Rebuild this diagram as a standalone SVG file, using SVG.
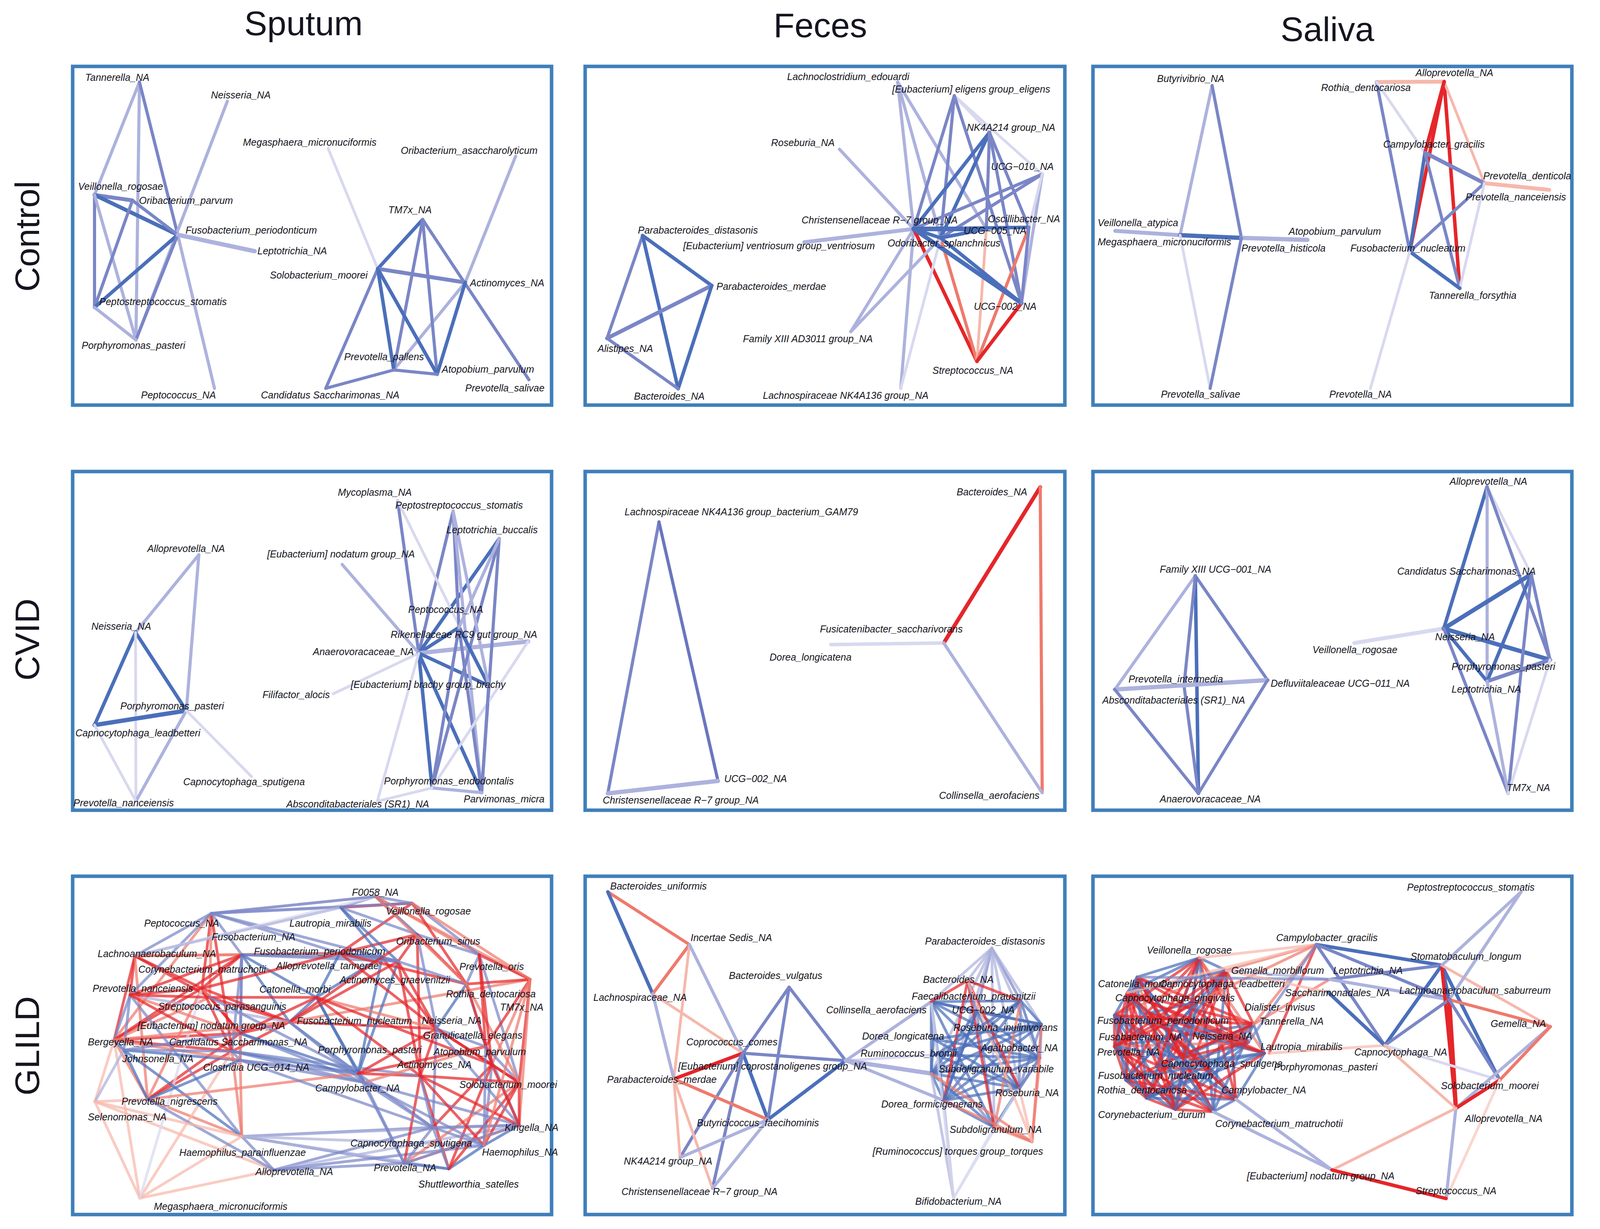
<svg xmlns="http://www.w3.org/2000/svg" width="4350" height="3146" viewBox="0 0 4350 3146">
<defs>
<linearGradient id="rbar" x1="0" y1="0" x2="0" y2="1">
<stop offset="0" stop-color="#3c6fb9"/><stop offset="0.25" stop-color="#7d6cb2"/><stop offset="0.5" stop-color="#b0669c"/><stop offset="0.75" stop-color="#d8535f"/><stop offset="1" stop-color="#e81b22"/>
</linearGradient>
</defs>
<style>
text{font-family:"Liberation Sans",Arial,sans-serif;fill:#151520}
.lb{font-size:25px;font-style:italic}
.title{font-size:88px}
.panel{fill:none;stroke:#3f7fba;stroke-width:9}
line{stroke-linecap:round}
.b1{stroke:#4b6fba;stroke-width:9}
.b2{stroke:#7a86c6;stroke-width:8}
.b3{stroke:#adb2dd;stroke-width:8}
.b4{stroke:#d8d9ef;stroke-width:7}
.r1{stroke:#e5262a;stroke-width:9}
.r2{stroke:#ee7a6d;stroke-width:8}
.r3{stroke:#f6b8ac;stroke-width:7}
.g line{stroke-width:7;stroke-opacity:0.72}
.tick{stroke:#000;stroke-width:9}
</style>
<rect width="4350" height="3146" fill="#fff"/>

<g id="titles">
<text class="title" x="777" y="90" text-anchor="middle">Sputum</text>
<text class="title" x="2100" y="95" text-anchor="middle">Feces</text>
<text class="title" x="3398" y="105" text-anchor="middle">Saliva</text>
<text class="title" transform="translate(100,605) rotate(-90)" text-anchor="middle">Control</text>
<text class="title" transform="translate(100,1637) rotate(-90)" text-anchor="middle">CVID</text>
<text class="title" transform="translate(100,2677) rotate(-90)" text-anchor="middle">GLILD</text>
</g>

<g id="panels">
<rect class="panel" x="186" y="170" width="1226" height="867"/>
<rect class="panel" x="1498" y="170" width="1228" height="867"/>
<rect class="panel" x="2798" y="170" width="1226" height="867"/>
<rect class="panel" x="186" y="1207" width="1226" height="867"/>
<rect class="panel" x="1498" y="1207" width="1228" height="867"/>
<rect class="panel" x="2798" y="1207" width="1226" height="867"/>
<rect class="panel" x="186" y="2243" width="1226" height="866"/>
<rect class="panel" x="1498" y="2243" width="1228" height="866"/>
<rect class="panel" x="2798" y="2243" width="1226" height="866"/>
</g>

<g id="connectors">
<!-- P1 sputum control -->
<line class="b3" x1="357" y1="210" x2="242" y2="499"/>
<line class="b3" x1="357" y1="210" x2="348" y2="870"/>
<line class="b2" x1="357" y1="210" x2="455" y2="601"/>
<line class="b3" x1="455" y1="601" x2="549" y2="994"/>
<line class="b3" x1="582" y1="259" x2="348" y2="870"/>
<line class="b2" x1="242" y1="499" x2="339" y2="513" style="stroke-width:10"/>
<line class="b1" x1="242" y1="499" x2="455" y2="601" style="stroke-width:10"/>
<line class="b2" x1="339" y1="513" x2="455" y2="601"/>
<line class="b2" x1="242" y1="499" x2="242" y2="787"/>
<line class="b3" x1="242" y1="499" x2="348" y2="870"/>
<line class="b2" x1="339" y1="513" x2="242" y2="787"/>
<line class="b1" x1="455" y1="601" x2="242" y2="787"/>
<line class="b2" x1="455" y1="601" x2="348" y2="870"/>
<line class="b3" x1="455" y1="601" x2="652" y2="643" style="stroke-width:11"/>
<line class="b3" x1="242" y1="787" x2="348" y2="870"/>
<line class="b4" x1="840" y1="380" x2="967" y2="688"/>
<line class="b3" x1="1320" y1="400" x2="1191" y2="723"/>
<line class="b3" x1="1191" y1="723" x2="1008" y2="947"/>
<line class="b1" x1="1082" y1="562" x2="967" y2="688"/>
<line class="b2" x1="1082" y1="562" x2="1008" y2="947"/>
<line class="b2" x1="1082" y1="562" x2="1119" y2="958"/>
<line class="b2" x1="1082" y1="562" x2="1354" y2="972"/>
<line class="b2" x1="967" y1="688" x2="1191" y2="723" style="stroke-width:10"/>
<line class="b2" x1="967" y1="688" x2="834" y2="994"/>
<line class="b1" x1="967" y1="688" x2="1008" y2="947"/>
<line class="b1" x1="967" y1="688" x2="1119" y2="958"/>
<line class="b1" x1="1191" y1="723" x2="1119" y2="958"/>
<line class="b2" x1="1008" y1="947" x2="834" y2="994"/>
<line class="b2" x1="1008" y1="947" x2="1119" y2="958"/>

<!-- P2 feces control -->
<line class="b1" x1="1645" y1="603" x2="1822" y2="731"/>
<line class="b2" x1="1645" y1="603" x2="1554" y2="866"/>
<line class="b1" x1="1645" y1="603" x2="1736" y2="995"/>
<line class="b2" x1="1822" y1="731" x2="1554" y2="866" style="stroke-width:10"/>
<line class="b1" x1="1822" y1="731" x2="1736" y2="995"/>
<line class="b2" x1="1554" y1="866" x2="1736" y2="995"/>
<line class="b3" x1="2149" y1="382" x2="2339" y2="586"/>
<line class="b3" x1="2298" y1="210" x2="2408" y2="609"/>
<line class="b3" x1="2298" y1="210" x2="2525" y2="586"/>
<line class="b3" x1="2298" y1="210" x2="2339" y2="586"/>
<line class="b4" x1="2443" y1="245" x2="2533" y2="339"/>
<line class="b4" x1="2443" y1="245" x2="2668" y2="446"/>
<line class="b2" x1="2443" y1="245" x2="2339" y2="586"/>
<line class="b2" x1="2443" y1="245" x2="2408" y2="609"/>
<line class="b2" x1="2443" y1="245" x2="2615" y2="776"/>
<line class="b1" x1="2533" y1="339" x2="2339" y2="586"/>
<line class="b1" x1="2533" y1="339" x2="2408" y2="609"/>
<line class="b2" x1="2533" y1="339" x2="2525" y2="586"/>
<line class="b2" x1="2533" y1="339" x2="2615" y2="776"/>
<line class="b2" x1="2533" y1="339" x2="2634" y2="582"/>
<line class="b2" x1="2668" y1="446" x2="2339" y2="586"/>
<line class="b2" x1="2668" y1="446" x2="2408" y2="609"/>
<line class="b3" x1="2668" y1="446" x2="2615" y2="776"/>
<line class="b4" x1="2668" y1="446" x2="2634" y2="582"/>
<line class="b3" x1="2339" y1="586" x2="2059" y2="620" style="stroke-width:10"/>
<line class="b3" x1="2339" y1="586" x2="2178" y2="849"/>
<line class="b3" x1="2339" y1="586" x2="2306" y2="994"/>
<line class="r1" x1="2339" y1="586" x2="2501" y2="925"/>
<line class="r2" x1="2408" y1="609" x2="2501" y2="925"/>
<line class="r3" x1="2525" y1="586" x2="2501" y2="925"/>
<line class="r2" x1="2634" y1="582" x2="2501" y2="925"/>
<line class="r1" x1="2615" y1="776" x2="2501" y2="925"/>
<line class="b3" x1="2408" y1="609" x2="2178" y2="849"/>
<line class="b4" x1="2408" y1="609" x2="2306" y2="994"/>
<line class="b1" x1="2339" y1="586" x2="2525" y2="586" style="stroke-width:12"/>
<line class="b1" x1="2339" y1="586" x2="2634" y2="582"/>
<line class="b1" x1="2339" y1="586" x2="2408" y2="609"/>
<line class="b1" x1="2339" y1="586" x2="2615" y2="776" style="stroke-width:11"/>
<line class="b1" x1="2408" y1="609" x2="2525" y2="586"/>
<line class="b1" x1="2408" y1="609" x2="2615" y2="776"/>
<line class="b2" x1="2634" y1="582" x2="2615" y2="776"/>

<!-- P3 saliva control -->
<line class="b3" x1="3103" y1="219" x2="3021" y2="602"/>
<line class="b2" x1="3103" y1="219" x2="3178" y2="609"/>
<line class="b3" x1="2855" y1="591" x2="3021" y2="602" style="stroke-width:10"/>
<line class="b1" x1="3021" y1="602" x2="3178" y2="609" style="stroke-width:11"/>
<line class="b3" x1="3178" y1="609" x2="3347" y2="614" style="stroke-width:11"/>
<line class="b4" x1="3021" y1="602" x2="3098" y2="994"/>
<line class="b2" x1="3178" y1="609" x2="3098" y2="994"/>
<line class="r3" x1="3524" y1="210" x2="3697" y2="209" style="stroke-width:10"/>
<line class="b2" x1="3524" y1="210" x2="3609" y2="644"/>
<line class="b4" x1="3524" y1="210" x2="3648" y2="391"/>
<line class="r1" x1="3697" y1="209" x2="3609" y2="644"/>
<line class="r1" x1="3697" y1="209" x2="3737" y2="738"/>
<line class="r3" x1="3697" y1="209" x2="3800" y2="469"/>
<line class="r1" x1="3697" y1="209" x2="3648" y2="391"/>
<line class="b1" x1="3648" y1="391" x2="3609" y2="644"/>
<line class="b2" x1="3648" y1="391" x2="3800" y2="469" style="stroke-width:10"/>
<line class="b2" x1="3648" y1="391" x2="3737" y2="738"/>
<line class="r3" x1="3800" y1="469" x2="3966" y2="486" style="stroke-width:10"/>
<line class="b2" x1="3800" y1="469" x2="3609" y2="644"/>
<line class="b4" x1="3800" y1="469" x2="3737" y2="738"/>
<line class="b1" x1="3609" y1="644" x2="3737" y2="738"/>
<line class="b4" x1="3609" y1="644" x2="3508" y2="995"/>

<!-- P4 sputum CVID -->
<line class="b3" x1="509" y1="1420" x2="347" y2="1619"/>
<line class="b3" x1="509" y1="1420" x2="477" y2="1819"/>
<line class="b1" x1="347" y1="1619" x2="477" y2="1819"/>
<line class="b1" x1="347" y1="1619" x2="242" y2="1856"/>
<line class="b4" x1="347" y1="1619" x2="348" y2="2051"/>
<line class="b1" x1="477" y1="1819" x2="242" y2="1856" style="stroke-width:11"/>
<line class="b3" x1="477" y1="1819" x2="348" y2="2051"/>
<line class="b4" x1="477" y1="1819" x2="644" y2="1988"/>
<line class="b4" x1="242" y1="1856" x2="348" y2="2051"/>
<line class="b2" x1="1072" y1="1672" x2="1018" y2="1282"/>
<line class="b2" x1="1072" y1="1672" x2="1160" y2="1308"/>
<line class="b1" x1="1072" y1="1672" x2="1278" y2="1379"/>
<line class="b3" x1="1072" y1="1672" x2="876" y2="1445"/>
<line class="b1" x1="1072" y1="1672" x2="1175" y2="1606"/>
<line class="b3" x1="1072" y1="1672" x2="1352" y2="1642" style="stroke-width:11"/>
<line class="b1" x1="1072" y1="1672" x2="1251" y2="1755"/>
<line class="b4" x1="1072" y1="1672" x2="853" y2="1776"/>
<line class="b1" x1="1072" y1="1672" x2="1106" y2="2017"/>
<line class="b1" x1="1072" y1="1672" x2="1233" y2="2029"/>
<line class="b4" x1="1072" y1="1672" x2="966" y2="2051"/>
<line class="b4" x1="1018" y1="1282" x2="1251" y2="1755"/>
<line class="b2" x1="1160" y1="1308" x2="1175" y2="1606"/>
<line class="b3" x1="1160" y1="1308" x2="1233" y2="2029"/>
<line class="b2" x1="1278" y1="1379" x2="1233" y2="2029"/>
<line class="b2" x1="1278" y1="1379" x2="1106" y2="2017"/>
<line class="b1" x1="1175" y1="1606" x2="1251" y2="1755"/>
<line class="b2" x1="1175" y1="1606" x2="1233" y2="2029"/>
<line class="b2" x1="1175" y1="1606" x2="1106" y2="2017"/>
<line class="b4" x1="1352" y1="1642" x2="1106" y2="2017"/>
<line class="b2" x1="1251" y1="1755" x2="1233" y2="2029"/>
<line class="b3" x1="1106" y1="2017" x2="1233" y2="2029"/>
<line class="b4" x1="1106" y1="2017" x2="966" y2="2051"/>
<line class="b3" x1="1160" y1="1308" x2="1251" y2="1755"/>
<line class="b3" x1="1278" y1="1379" x2="1175" y2="1606"/>

<!-- P5 feces CVID -->
<line class="b2" x1="1687" y1="1336" x2="1556" y2="2031"/>
<line class="b2" x1="1687" y1="1336" x2="1838" y2="1999" style="stroke:#6a76bf"/>
<line class="b3" x1="1556" y1="2031" x2="1838" y2="1999" style="stroke-width:11"/>
<line class="r1" x1="2663" y1="1247" x2="2416" y2="1646" style="stroke-width:10"/>
<line class="r2" x1="2663" y1="1247" x2="2668" y2="2029"/>
<line class="b4" x1="2416" y1="1646" x2="2127" y2="1650" style="stroke-width:9"/>
<line class="b3" x1="2416" y1="1646" x2="2668" y2="2029"/>

<!-- P6 saliva CVID -->
<line class="b3" x1="3060" y1="1474" x2="2854" y2="1765"/>
<line class="b2" x1="3060" y1="1474" x2="3245" y2="1741"/>
<line class="b1" x1="3060" y1="1474" x2="3068" y2="2031"/>
<line class="b2" x1="3060" y1="1474" x2="3031" y2="1755"/>
<line class="b2" x1="3031" y1="1755" x2="3068" y2="2031"/>
<line class="b3" x1="2854" y1="1765" x2="3245" y2="1741" style="stroke-width:11"/>
<line class="b2" x1="2854" y1="1765" x2="3068" y2="2031"/>
<line class="b2" x1="3245" y1="1741" x2="3068" y2="2031"/>
<line class="b4" x1="3467" y1="1646" x2="3696" y2="1609" style="stroke-width:10"/>
<line class="b1" x1="3807" y1="1246" x2="3696" y2="1609"/>
<line class="b3" x1="3807" y1="1246" x2="3807" y2="1744"/>
<line class="b4" x1="3807" y1="1246" x2="3920" y2="1470"/>
<line class="b2" x1="3807" y1="1246" x2="3968" y2="1689"/>
<line class="b1" x1="3696" y1="1609" x2="3920" y2="1470" style="stroke-width:11"/>
<line class="b1" x1="3696" y1="1609" x2="3968" y2="1689" style="stroke-width:11"/>
<line class="b1" x1="3696" y1="1609" x2="3807" y2="1744"/>
<line class="b2" x1="3696" y1="1609" x2="3861" y2="2031"/>
<line class="b1" x1="3920" y1="1470" x2="3807" y2="1744"/>
<line class="b2" x1="3920" y1="1470" x2="3968" y2="1689"/>
<line class="b2" x1="3920" y1="1470" x2="3861" y2="2031"/>
<line class="b2" x1="3807" y1="1744" x2="3968" y2="1689" style="stroke-width:10"/>
<line class="b3" x1="3807" y1="1744" x2="3861" y2="2031"/>
<line class="b4" x1="3968" y1="1689" x2="3861" y2="2031"/>

<!-- P7 sputum GLILD -->
<g class="g">
<line class="r1" x1="345" y1="2447" x2="517" y2="2530"/>
<line class="r1" x1="345" y1="2447" x2="292" y2="2662"/>
<line class="r1" x1="345" y1="2447" x2="333" y2="2547"/>
<line class="r2" x1="345" y1="2447" x2="378" y2="2814"/>
<line class="r1" x1="345" y1="2447" x2="537" y2="2553"/>
<line class="r2" x1="345" y1="2447" x2="619" y2="2444"/>
<line class="r1" x1="541" y1="2338" x2="517" y2="2530"/>
<line class="r2" x1="541" y1="2338" x2="537" y2="2553"/>
<line class="r2" x1="541" y1="2338" x2="292" y2="2662"/>
<line class="r1" x1="541" y1="2338" x2="594" y2="2691"/>
<line class="b2" x1="541" y1="2338" x2="345" y2="2447"/>
<line class="b2" x1="541" y1="2338" x2="333" y2="2547"/>
<line class="b2" x1="541" y1="2338" x2="619" y2="2444"/>
<line class="b3" x1="541" y1="2338" x2="961" y2="2295"/>
<line class="b3" x1="541" y1="2338" x2="872" y2="2323"/>
<line class="b3" x1="541" y1="2338" x2="1055" y2="2312"/>
<line class="b2" x1="541" y1="2338" x2="870" y2="2440"/>
<line class="b2" x1="541" y1="2338" x2="1019" y2="2461"/>
<line class="r1" x1="292" y1="2662" x2="517" y2="2530"/>
<line class="r1" x1="292" y1="2662" x2="615" y2="2645"/>
<line class="r1" x1="292" y1="2662" x2="594" y2="2691"/>
<line class="r2" x1="292" y1="2662" x2="537" y2="2553"/>
<line class="r3" x1="292" y1="2662" x2="243" y2="2820"/>
<line class="r2" x1="292" y1="2662" x2="378" y2="2814"/>
<line class="r3" x1="292" y1="2662" x2="358" y2="3067"/>
<line class="b1" x1="292" y1="2662" x2="317" y2="2688"/>
<line class="b2" x1="292" y1="2662" x2="333" y2="2547"/>
<line class="r1" x1="292" y1="2662" x2="619" y2="2444"/>
<line class="r3" x1="243" y1="2820" x2="378" y2="2814"/>
<line class="b3" x1="243" y1="2820" x2="317" y2="2688"/>
<line class="r3" x1="243" y1="2820" x2="358" y2="3067"/>
<line class="r3" x1="243" y1="2820" x2="701" y2="2995"/>
<line class="b1" x1="378" y1="2814" x2="317" y2="2688"/>
<line class="r2" x1="378" y1="2814" x2="619" y2="2909"/>
<line class="r1" x1="378" y1="2814" x2="594" y2="2691"/>
<line class="r1" x1="378" y1="2814" x2="615" y2="2645"/>
<line class="r2" x1="378" y1="2814" x2="517" y2="2530"/>
<line class="r3" x1="358" y1="3067" x2="619" y2="2909"/>
<line class="r3" x1="358" y1="3067" x2="701" y2="2995"/>
<line class="r3" x1="358" y1="3067" x2="594" y2="2691"/>
<line class="b4" x1="358" y1="3067" x2="517" y2="2530"/>
<line class="b1" x1="619" y1="2909" x2="317" y2="2688"/>
<line class="b2" x1="619" y1="2909" x2="333" y2="2547"/>
<line class="r2" x1="619" y1="2909" x2="594" y2="2691"/>
<line class="b2" x1="619" y1="2909" x2="701" y2="2995"/>
<line class="b2" x1="619" y1="2909" x2="1035" y2="2978"/>
<line class="b2" x1="619" y1="2909" x2="1108" y2="2886"/>
<line class="b3" x1="619" y1="2909" x2="1239" y2="2932"/>
<line class="b3" x1="619" y1="2909" x2="1149" y2="2992"/>
<line class="b3" x1="619" y1="2909" x2="1329" y2="2880"/>
<line class="b2" x1="701" y1="2995" x2="1035" y2="2978"/>
<line class="b2" x1="701" y1="2995" x2="1108" y2="2886"/>
<line class="b3" x1="701" y1="2995" x2="1329" y2="2880"/>
<line class="b2" x1="701" y1="2995" x2="1239" y2="2932"/>
<line class="r1" x1="619" y1="2444" x2="517" y2="2530"/>
<line class="b1" x1="619" y1="2444" x2="741" y2="2616"/>
<line class="b2" x1="619" y1="2444" x2="594" y2="2691"/>
<line class="b2" x1="619" y1="2444" x2="615" y2="2645"/>
<line class="b2" x1="619" y1="2444" x2="615" y2="2714"/>
<line class="b1" x1="619" y1="2444" x2="870" y2="2440"/>
<line class="r1" x1="517" y1="2530" x2="615" y2="2645"/>
<line class="r1" x1="517" y1="2530" x2="594" y2="2691"/>
<line class="r1" x1="517" y1="2530" x2="741" y2="2616"/>
<line class="r2" x1="517" y1="2530" x2="537" y2="2553"/>
<line class="b2" x1="594" y1="2691" x2="615" y2="2714"/>
<line class="r1" x1="594" y1="2691" x2="741" y2="2616"/>
<line class="b2" x1="594" y1="2691" x2="933" y2="2771"/>
<line class="r1" x1="537" y1="2553" x2="615" y2="2645"/>
<line class="r1" x1="537" y1="2553" x2="741" y2="2616"/>
<line class="r1" x1="615" y1="2645" x2="741" y2="2616"/>
<line class="b2" x1="615" y1="2645" x2="933" y2="2771"/>
<line class="r2" x1="615" y1="2645" x2="615" y2="2714"/>
<line class="b2" x1="317" y1="2688" x2="333" y2="2547"/>
<line class="b1" x1="317" y1="2688" x2="615" y2="2714"/>
<line class="r2" x1="615" y1="2714" x2="619" y2="2909"/>
<line class="b2" x1="615" y1="2714" x2="933" y2="2771"/>
<line class="b1" x1="741" y1="2616" x2="810" y2="2553"/>
<line class="b1" x1="741" y1="2616" x2="917" y2="2748"/>
<line class="r1" x1="741" y1="2616" x2="1117" y2="2633"/>
<line class="r2" x1="741" y1="2616" x2="1357" y2="2507"/>
<line class="r1" x1="870" y1="2440" x2="1055" y2="2312"/>
<line class="r1" x1="870" y1="2440" x2="1068" y2="2392"/>
<line class="b1" x1="870" y1="2440" x2="1019" y2="2461"/>
<line class="b1" x1="870" y1="2440" x2="978" y2="2450"/>
<line class="b1" x1="872" y1="2323" x2="1019" y2="2461"/>
<line class="b2" x1="872" y1="2323" x2="961" y2="2295"/>
<line class="r1" x1="872" y1="2323" x2="1055" y2="2312"/>
<line class="b2" x1="872" y1="2323" x2="1068" y2="2392"/>
<line class="b2" x1="961" y1="2295" x2="1055" y2="2312"/>
<line class="r2" x1="961" y1="2295" x2="1227" y2="2444"/>
<line class="r2" x1="961" y1="2295" x2="1357" y2="2507"/>
<line class="b2" x1="1055" y1="2312" x2="1227" y2="2444"/>
<line class="r1" x1="1055" y1="2312" x2="1194" y2="2519"/>
<line class="b2" x1="1068" y1="2392" x2="1227" y2="2444"/>
<line class="r1" x1="1068" y1="2392" x2="1194" y2="2519"/>
<line class="r1" x1="1068" y1="2392" x2="1019" y2="2461"/>
<line class="r1" x1="1068" y1="2392" x2="1076" y2="2754"/>
<line class="r1" x1="1227" y1="2444" x2="1357" y2="2507"/>
<line class="b2" x1="1227" y1="2444" x2="1194" y2="2519"/>
<line class="b2" x1="1227" y1="2444" x2="1329" y2="2771"/>
<line class="r1" x1="1357" y1="2507" x2="1194" y2="2519"/>
<line class="r1" x1="1357" y1="2507" x2="1243" y2="2679"/>
<line class="r2" x1="1357" y1="2507" x2="1259" y2="2725"/>
<line class="r1" x1="1357" y1="2507" x2="1329" y2="2771"/>
<line class="r2" x1="1357" y1="2507" x2="1329" y2="2880"/>
<line class="b1" x1="1194" y1="2519" x2="1117" y2="2633"/>
<line class="b2" x1="1194" y1="2519" x2="1243" y2="2679"/>
<line class="r1" x1="1019" y1="2461" x2="1117" y2="2633"/>
<line class="b1" x1="1019" y1="2461" x2="917" y2="2748"/>
<line class="r1" x1="1019" y1="2461" x2="1076" y2="2754"/>
<line class="b1" x1="978" y1="2450" x2="810" y2="2553"/>
<line class="b1" x1="978" y1="2450" x2="917" y2="2748"/>
<line class="r1" x1="978" y1="2450" x2="1117" y2="2633"/>
<line class="b1" x1="810" y1="2553" x2="917" y2="2748"/>
<line class="b1" x1="810" y1="2553" x2="933" y2="2771"/>
<line class="r2" x1="810" y1="2553" x2="1117" y2="2633"/>
<line class="b2" x1="1117" y1="2633" x2="1243" y2="2679"/>
<line class="r1" x1="1117" y1="2633" x2="1259" y2="2725"/>
<line class="r1" x1="1117" y1="2633" x2="1076" y2="2754"/>
<line class="b2" x1="1117" y1="2633" x2="1108" y2="2886"/>
<line class="b2" x1="1243" y1="2679" x2="1259" y2="2725"/>
<line class="b2" x1="1243" y1="2679" x2="1329" y2="2771"/>
<line class="b2" x1="1243" y1="2679" x2="1329" y2="2880"/>
<line class="b1" x1="917" y1="2748" x2="933" y2="2771"/>
<line class="r1" x1="917" y1="2748" x2="1076" y2="2754"/>
<line class="b2" x1="917" y1="2748" x2="1035" y2="2978"/>
<line class="b2" x1="917" y1="2748" x2="1108" y2="2886"/>
<line class="r1" x1="1259" y1="2725" x2="1329" y2="2771"/>
<line class="b2" x1="1259" y1="2725" x2="1239" y2="2932"/>
<line class="r1" x1="1259" y1="2725" x2="1149" y2="2992"/>
<line class="r1" x1="1076" y1="2754" x2="1035" y2="2978"/>
<line class="r1" x1="1076" y1="2754" x2="1149" y2="2992"/>
<line class="b2" x1="1076" y1="2754" x2="1108" y2="2886"/>
<line class="b2" x1="933" y1="2771" x2="1035" y2="2978"/>
<line class="b2" x1="933" y1="2771" x2="1108" y2="2886"/>
<line class="r1" x1="1329" y1="2771" x2="1329" y2="2880"/>
<line class="r1" x1="1329" y1="2771" x2="1239" y2="2932"/>
<line class="r2" x1="1329" y1="2771" x2="1035" y2="2978"/>
<line class="b1" x1="1329" y1="2880" x2="1239" y2="2932"/>
<line class="r2" x1="1329" y1="2880" x2="1035" y2="2978"/>
<line class="b1" x1="1239" y1="2932" x2="1149" y2="2992"/>
<line class="b2" x1="1108" y1="2886" x2="1149" y2="2992"/>
<line class="b2" x1="1108" y1="2886" x2="1035" y2="2978"/>
<line class="b1" x1="1035" y1="2978" x2="1149" y2="2992"/>
<line class="r1" x1="1329" y1="2771" x2="1149" y2="2992"/>
<line class="r1" x1="1259" y1="2725" x2="1108" y2="2886"/>
<line class="b2" x1="1329" y1="2880" x2="1108" y2="2886"/>
<line class="b4" x1="345" y1="2447" x2="961" y2="2295"/>
<line class="r2" x1="378" y1="2814" x2="917" y2="2748"/>
<line class="b3" x1="333" y1="2547" x2="741" y2="2616"/>
<line class="b2" x1="541" y1="2338" x2="1055" y2="2312"/>
<line class="b2" x1="541" y1="2338" x2="961" y2="2295"/>
<line class="b3" x1="345" y1="2447" x2="872" y2="2323"/>
<line class="r2" x1="345" y1="2447" x2="870" y2="2440"/>
<line class="r1" x1="333" y1="2547" x2="517" y2="2530"/>
<line class="r1" x1="333" y1="2547" x2="537" y2="2553"/>
<line class="r2" x1="333" y1="2547" x2="615" y2="2645"/>
<line class="r1" x1="333" y1="2547" x2="594" y2="2691"/>
<line class="r1" x1="333" y1="2547" x2="619" y2="2444"/>
<line class="r2" x1="292" y1="2662" x2="615" y2="2714"/>
<line class="r2" x1="292" y1="2662" x2="741" y2="2616"/>
<line class="b2" x1="317" y1="2688" x2="615" y2="2645"/>
<line class="b2" x1="317" y1="2688" x2="594" y2="2691"/>
<line class="b1" x1="378" y1="2814" x2="615" y2="2714"/>
<line class="b2" x1="378" y1="2814" x2="701" y2="2995"/>
<line class="r3" x1="243" y1="2820" x2="619" y2="2909"/>
<line class="b2" x1="619" y1="2444" x2="1019" y2="2461"/>
<line class="b2" x1="619" y1="2444" x2="978" y2="2450"/>
<line class="b1" x1="619" y1="2444" x2="810" y2="2553"/>
<line class="r1" x1="517" y1="2530" x2="870" y2="2440"/>
<line class="r1" x1="537" y1="2553" x2="810" y2="2553"/>
<line class="b2" x1="537" y1="2553" x2="917" y2="2748"/>
<line class="b1" x1="615" y1="2645" x2="917" y2="2748"/>
<line class="r1" x1="615" y1="2645" x2="810" y2="2553"/>
<line class="b1" x1="594" y1="2691" x2="917" y2="2748"/>
<line class="b2" x1="594" y1="2691" x2="1076" y2="2754"/>
<line class="b2" x1="615" y1="2714" x2="917" y2="2748"/>
<line class="b2" x1="615" y1="2714" x2="1108" y2="2886"/>
<line class="r1" x1="741" y1="2616" x2="1019" y2="2461"/>
<line class="r1" x1="741" y1="2616" x2="978" y2="2450"/>
<line class="b2" x1="741" y1="2616" x2="933" y2="2771"/>
<line class="b1" x1="870" y1="2440" x2="810" y2="2553"/>
<line class="r1" x1="870" y1="2440" x2="1117" y2="2633"/>
<line class="r1" x1="870" y1="2440" x2="1194" y2="2519"/>
<line class="b2" x1="978" y1="2450" x2="1019" y2="2461"/>
<line class="r1" x1="978" y1="2450" x2="1068" y2="2392"/>
<line class="b2" x1="1019" y1="2461" x2="1194" y2="2519"/>
<line class="r1" x1="810" y1="2553" x2="1076" y2="2754"/>
<line class="r1" x1="810" y1="2553" x2="1259" y2="2725"/>
<line class="r1" x1="917" y1="2748" x2="1117" y2="2633"/>
<line class="r1" x1="917" y1="2748" x2="1243" y2="2679"/>
<line class="r2" x1="933" y1="2771" x2="1243" y2="2679"/>
<line class="b2" x1="933" y1="2771" x2="1329" y2="2880"/>
<line class="b2" x1="933" y1="2771" x2="1239" y2="2932"/>
<line class="r1" x1="1076" y1="2754" x2="1329" y2="2771"/>
<line class="r1" x1="1076" y1="2754" x2="1329" y2="2880"/>
<line class="r1" x1="1076" y1="2754" x2="1239" y2="2932"/>
<line class="r1" x1="1117" y1="2633" x2="1329" y2="2771"/>
<line class="b2" x1="1117" y1="2633" x2="1329" y2="2880"/>
<line class="r1" x1="1194" y1="2519" x2="1259" y2="2725"/>
<line class="r2" x1="1194" y1="2519" x2="1329" y2="2771"/>
<line class="r1" x1="1227" y1="2444" x2="1243" y2="2679"/>
<line class="r1" x1="1227" y1="2444" x2="1259" y2="2725"/>
<line class="b2" x1="1068" y1="2392" x2="1117" y2="2633"/>
<line class="r2" x1="1055" y1="2312" x2="1357" y2="2507"/>
<line class="b1" x1="961" y1="2295" x2="1068" y2="2392"/>
<line class="b1" x1="872" y1="2323" x2="978" y2="2450"/>
<line class="b2" x1="1035" y1="2978" x2="1329" y2="2880"/>
<line class="b2" x1="1108" y1="2886" x2="1239" y2="2932"/>
<line class="b2" x1="1243" y1="2679" x2="1239" y2="2932"/>
<line class="r1" x1="1259" y1="2725" x2="1329" y2="2880"/>
<line class="r2" x1="1357" y1="2507" x2="1239" y2="2932"/>
<line class="r2" x1="961" y1="2295" x2="1194" y2="2519"/>
</g>

<!-- P8 feces GLILD -->
<line class="r2" x1="1556" y1="2283" x2="1765" y2="2418"/>
<line class="b1" x1="1556" y1="2283" x2="1671" y2="2544"/>
<line class="r2" x1="1765" y1="2418" x2="1671" y2="2544"/>
<line class="r3" x1="1765" y1="2418" x2="1725" y2="2762"/>
<line class="b3" x1="1765" y1="2418" x2="1902" y2="2696"/>
<line class="r3" x1="1671" y1="2544" x2="1902" y2="2696"/>
<line class="b3" x1="1671" y1="2544" x2="1725" y2="2762"/>
<line class="r1" x1="1902" y1="2696" x2="1725" y2="2762"/>
<line class="b2" x1="1902" y1="2696" x2="2020" y2="2527"/>
<line class="b2" x1="1902" y1="2696" x2="2165" y2="2715"/>
<line class="b1" x1="1902" y1="2696" x2="1966" y2="2866"/>
<line class="b2" x1="1902" y1="2696" x2="1741" y2="2963"/>
<line class="b2" x1="1902" y1="2696" x2="1824" y2="3042"/>
<line class="b2" x1="2020" y1="2527" x2="1966" y2="2866"/>
<line class="b2" x1="2020" y1="2527" x2="2165" y2="2715"/>
<line class="b1" x1="2165" y1="2715" x2="1966" y2="2866"/>
<line class="b3" x1="2165" y1="2715" x2="2384" y2="2564"/>
<line class="b4" x1="2165" y1="2715" x2="2395" y2="2700"/>
<line class="b3" x1="2165" y1="2715" x2="2384" y2="2748" style="stroke-width:11"/>
<line class="b3" x1="2165" y1="2715" x2="2416" y2="2817"/>
<line class="r2" x1="1725" y1="2762" x2="1966" y2="2866"/>
<line class="r3" x1="1725" y1="2762" x2="1741" y2="2963"/>
<line class="r3" x1="1725" y1="2762" x2="1824" y2="3042"/>
<line class="b3" x1="1966" y1="2866" x2="1741" y2="2963"/>
<line class="b3" x1="1966" y1="2866" x2="1824" y2="3042"/>
<g class="g">
<line class="b3" x1="2539" y1="2427" x2="2477" y2="2510"/>
<line class="b2" x1="2539" y1="2427" x2="2613" y2="2562"/>
<line class="b3" x1="2539" y1="2427" x2="2384" y2="2564"/>
<line class="b2" x1="2539" y1="2427" x2="2500" y2="2590"/>
<line class="b3" x1="2539" y1="2427" x2="2666" y2="2622"/>
<line class="b3" x1="2539" y1="2427" x2="2662" y2="2708"/>
<line class="b3" x1="2539" y1="2427" x2="2384" y2="2748"/>
<line class="b3" x1="2539" y1="2427" x2="2609" y2="2785"/>
<line class="b3" x1="2539" y1="2427" x2="2416" y2="2817"/>
<line class="b3" x1="2539" y1="2427" x2="2545" y2="2886"/>
<line class="b1" x1="2384" y1="2564" x2="2613" y2="2562"/>
<line class="b1" x1="2384" y1="2564" x2="2500" y2="2590"/>
<line class="b1" x1="2384" y1="2564" x2="2666" y2="2622"/>
<line class="b1" x1="2384" y1="2564" x2="2662" y2="2708"/>
<line class="b1" x1="2384" y1="2564" x2="2384" y2="2748"/>
<line class="b1" x1="2384" y1="2564" x2="2416" y2="2817"/>
<line class="b1" x1="2384" y1="2564" x2="2609" y2="2785"/>
<line class="b1" x1="2384" y1="2564" x2="2545" y2="2886"/>
<line class="b2" x1="2384" y1="2564" x2="2390" y2="2660"/>
<line class="b1" x1="2613" y1="2562" x2="2666" y2="2622"/>
<line class="b1" x1="2613" y1="2562" x2="2662" y2="2708"/>
<line class="b1" x1="2613" y1="2562" x2="2384" y2="2748"/>
<line class="b1" x1="2613" y1="2562" x2="2416" y2="2817"/>
<line class="b2" x1="2613" y1="2562" x2="2609" y2="2785"/>
<line class="b1" x1="2500" y1="2590" x2="2666" y2="2622"/>
<line class="b1" x1="2500" y1="2590" x2="2662" y2="2708"/>
<line class="b1" x1="2500" y1="2590" x2="2384" y2="2748"/>
<line class="b1" x1="2500" y1="2590" x2="2416" y2="2817"/>
<line class="b1" x1="2500" y1="2590" x2="2609" y2="2785"/>
<line class="b2" x1="2500" y1="2590" x2="2545" y2="2886"/>
<line class="b2" x1="2666" y1="2622" x2="2662" y2="2708"/>
<line class="b1" x1="2666" y1="2622" x2="2384" y2="2748"/>
<line class="b2" x1="2666" y1="2622" x2="2609" y2="2785"/>
<line class="b1" x1="2666" y1="2622" x2="2416" y2="2817"/>
<line class="b1" x1="2390" y1="2660" x2="2384" y2="2748"/>
<line class="b1" x1="2390" y1="2660" x2="2662" y2="2708"/>
<line class="b1" x1="2395" y1="2700" x2="2662" y2="2708"/>
<line class="b1" x1="2395" y1="2700" x2="2609" y2="2785"/>
<line class="b2" x1="2395" y1="2700" x2="2545" y2="2886"/>
<line class="b1" x1="2662" y1="2708" x2="2384" y2="2748"/>
<line class="b1" x1="2662" y1="2708" x2="2416" y2="2817"/>
<line class="b1" x1="2662" y1="2708" x2="2609" y2="2785"/>
<line class="b2" x1="2662" y1="2708" x2="2545" y2="2886"/>
<line class="b1" x1="2384" y1="2748" x2="2609" y2="2785"/>
<line class="b1" x1="2384" y1="2748" x2="2416" y2="2817"/>
<line class="b1" x1="2384" y1="2748" x2="2545" y2="2886"/>
<line class="b1" x1="2609" y1="2785" x2="2416" y2="2817"/>
<line class="b1" x1="2609" y1="2785" x2="2545" y2="2886"/>
<line class="b1" x1="2416" y1="2817" x2="2545" y2="2886"/>
<line class="b3" x1="2416" y1="2817" x2="2441" y2="3067"/>
<line class="b3" x1="2384" y1="2748" x2="2441" y2="3067"/>
<line class="b4" x1="2545" y1="2886" x2="2441" y2="3067"/>
<line class="b4" x1="2384" y1="2564" x2="2441" y2="3067"/>
<line class="b4" x1="2609" y1="2785" x2="2441" y2="3067"/>
<line class="r1" x1="2477" y1="2510" x2="2613" y2="2562"/>
<line class="r1" x1="2477" y1="2510" x2="2384" y2="2564"/>
<line class="r1" x1="2477" y1="2510" x2="2416" y2="2817"/>
<line class="r1" x1="2477" y1="2510" x2="2545" y2="2886"/>
<line class="r1" x1="2477" y1="2510" x2="2609" y2="2785"/>
<line class="b2" x1="2477" y1="2510" x2="2500" y2="2590"/>
<line class="r2" x1="2666" y1="2622" x2="2642" y2="2923"/>
<line class="r2" x1="2662" y1="2708" x2="2642" y2="2923"/>
<line class="r2" x1="2384" y1="2748" x2="2642" y2="2923"/>
<line class="r3" x1="2609" y1="2785" x2="2642" y2="2923"/>
<line class="r2" x1="2416" y1="2817" x2="2642" y2="2923"/>
<line class="r2" x1="2545" y1="2886" x2="2642" y2="2923"/>
<line class="r2" x1="2613" y1="2562" x2="2545" y2="2886"/>
<line class="r3" x1="2477" y1="2510" x2="2642" y2="2923"/>
<line class="b1" x1="2390" y1="2660" x2="2609" y2="2785"/>
<line class="b1" x1="2390" y1="2660" x2="2666" y2="2622"/>
<line class="b1" x1="2395" y1="2700" x2="2666" y2="2622"/>
<line class="b1" x1="2395" y1="2700" x2="2613" y2="2562"/>
<line class="b1" x1="2416" y1="2817" x2="2500" y2="2590"/>
</g>

<!-- P9 saliva GLILD -->
<g class="g">
<line class="b1" x1="2911" y1="2501" x2="3070" y2="2452"/>
<line class="b1" x1="3070" y1="2452" x2="3139" y2="2484"/>
<line class="r1" x1="3139" y1="2484" x2="3209" y2="2622"/>
<line class="b1" x1="3209" y1="2622" x2="3237" y2="2696"/>
<line class="b1" x1="3237" y1="2696" x2="3164" y2="2814"/>
<line class="b1" x1="3164" y1="2814" x2="3106" y2="2846"/>
<line class="r1" x1="3106" y1="2846" x2="3009" y2="2840"/>
<line class="r1" x1="3009" y1="2840" x2="2935" y2="2811"/>
<line class="r1" x1="2935" y1="2811" x2="2882" y2="2765"/>
<line class="r1" x1="2882" y1="2765" x2="2853" y2="2679"/>
<line class="r1" x1="2853" y1="2679" x2="2853" y2="2599"/>
<line class="b1" x1="2853" y1="2599" x2="2886" y2="2541"/>
<line class="b1" x1="2886" y1="2541" x2="2911" y2="2501"/>
<line class="r1" x1="2911" y1="2501" x2="3209" y2="2622"/>
<line class="b1" x1="2911" y1="2501" x2="3164" y2="2814"/>
<line class="r2" x1="2911" y1="2501" x2="3009" y2="2840"/>
<line class="b1" x1="2911" y1="2501" x2="3025" y2="2708"/>
<line class="r1" x1="3070" y1="2452" x2="3009" y2="2840"/>
<line class="b1" x1="3070" y1="2452" x2="2935" y2="2811"/>
<line class="r1" x1="3070" y1="2452" x2="2853" y2="2679"/>
<line class="r1" x1="3070" y1="2452" x2="3196" y2="2668"/>
<line class="b1" x1="3070" y1="2452" x2="3025" y2="2708"/>
<line class="r1" x1="3139" y1="2484" x2="3009" y2="2840"/>
<line class="b1" x1="3139" y1="2484" x2="2882" y2="2765"/>
<line class="r2" x1="3139" y1="2484" x2="2853" y2="2599"/>
<line class="b1" x1="3139" y1="2484" x2="3106" y2="2846"/>
<line class="r1" x1="3209" y1="2622" x2="2935" y2="2811"/>
<line class="b1" x1="3209" y1="2622" x2="2853" y2="2679"/>
<line class="r1" x1="3209" y1="2622" x2="2886" y2="2541"/>
<line class="b1" x1="3209" y1="2622" x2="3009" y2="2840"/>
<line class="r1" x1="3237" y1="2696" x2="2853" y2="2599"/>
<line class="b1" x1="3237" y1="2696" x2="2935" y2="2811"/>
<line class="r2" x1="3237" y1="2696" x2="3070" y2="2452"/>
<line class="b1" x1="3196" y1="2668" x2="2882" y2="2765"/>
<line class="r1" x1="3196" y1="2668" x2="2911" y2="2501"/>
<line class="b1" x1="3196" y1="2668" x2="3009" y2="2840"/>
<line class="r1" x1="3164" y1="2814" x2="2853" y2="2679"/>
<line class="b1" x1="3164" y1="2814" x2="2886" y2="2541"/>
<line class="r1" x1="3164" y1="2814" x2="3070" y2="2452"/>
<line class="b1" x1="3106" y1="2846" x2="2853" y2="2599"/>
<line class="r1" x1="3106" y1="2846" x2="2911" y2="2501"/>
<line class="b1" x1="3106" y1="2846" x2="3070" y2="2452"/>
<line class="b1" x1="3009" y1="2840" x2="2853" y2="2599"/>
<line class="r1" x1="3009" y1="2840" x2="2886" y2="2541"/>
<line class="r1" x1="2935" y1="2811" x2="2853" y2="2599"/>
<line class="r1" x1="2935" y1="2811" x2="3139" y2="2484"/>
<line class="r1" x1="2882" y1="2765" x2="2886" y2="2541"/>
<line class="r1" x1="2882" y1="2765" x2="3209" y2="2622"/>
<line class="r2" x1="2853" y1="2679" x2="3196" y2="2668"/>
<line class="b1" x1="2984" y1="2622" x2="3237" y2="2696"/>
<line class="r1" x1="2984" y1="2622" x2="3106" y2="2846"/>
<line class="r1" x1="2984" y1="2622" x2="3139" y2="2484"/>
<line class="r1" x1="3025" y1="2708" x2="2886" y2="2541"/>
<line class="b1" x1="3025" y1="2708" x2="3209" y2="2622"/>
<line class="r1" x1="2943" y1="2593" x2="3164" y2="2814"/>
<line class="b1" x1="2943" y1="2593" x2="3196" y2="2668"/>
<line class="r1" x1="3066" y1="2564" x2="2935" y2="2811"/>
<line class="b1" x1="3066" y1="2564" x2="2882" y2="2765"/>
<line class="r1" x1="3100" y1="2740" x2="2853" y2="2599"/>
<line class="b1" x1="3100" y1="2740" x2="2911" y2="2501"/>
<line class="b1" x1="2960" y1="2730" x2="3139" y2="2484"/>
<line class="r1" x1="2960" y1="2730" x2="3209" y2="2622"/>
<line class="r1" x1="2984" y1="2622" x2="3025" y2="2708"/>
<line class="b1" x1="2943" y1="2593" x2="3066" y2="2564"/>
<line class="r1" x1="3100" y1="2740" x2="2960" y2="2730"/>
<line class="b1" x1="2853" y1="2679" x2="3009" y2="2840"/>
<line class="r1" x1="2882" y1="2765" x2="3106" y2="2846"/>
<line class="b1" x1="2935" y1="2811" x2="3164" y2="2814"/>
<line class="r2" x1="2886" y1="2541" x2="3106" y2="2846"/>
<line class="b1" x1="2911" y1="2501" x2="2935" y2="2811"/>
<line class="r1" x1="3070" y1="2452" x2="2882" y2="2765"/>
<line class="b2" x1="2853" y1="2599" x2="3196" y2="2668"/>
<line class="r1" x1="2911" y1="2501" x2="2882" y2="2765"/>
<line class="b1" x1="2911" y1="2501" x2="2853" y2="2679"/>
<line class="r1" x1="3070" y1="2452" x2="2853" y2="2599"/>
<line class="b1" x1="3070" y1="2452" x2="2886" y2="2541"/>
<line class="r1" x1="3139" y1="2484" x2="2853" y2="2679"/>
<line class="b1" x1="3139" y1="2484" x2="2886" y2="2541"/>
<line class="r1" x1="3139" y1="2484" x2="3164" y2="2814"/>
<line class="r1" x1="3209" y1="2622" x2="2853" y2="2599"/>
<line class="b1" x1="3209" y1="2622" x2="3106" y2="2846"/>
<line class="r1" x1="3237" y1="2696" x2="2886" y2="2541"/>
<line class="b1" x1="3237" y1="2696" x2="2882" y2="2765"/>
<line class="r1" x1="3237" y1="2696" x2="3009" y2="2840"/>
<line class="b1" x1="3196" y1="2668" x2="2935" y2="2811"/>
<line class="r1" x1="3196" y1="2668" x2="2886" y2="2541"/>
<line class="b1" x1="3164" y1="2814" x2="2853" y2="2599"/>
<line class="r1" x1="3164" y1="2814" x2="2882" y2="2765"/>
<line class="r1" x1="3106" y1="2846" x2="2853" y2="2679"/>
<line class="b1" x1="3106" y1="2846" x2="2886" y2="2541"/>
<line class="b1" x1="3009" y1="2840" x2="2882" y2="2765"/>
<line class="r1" x1="3009" y1="2840" x2="2853" y2="2679"/>
<line class="b1" x1="2935" y1="2811" x2="2853" y2="2679"/>
<line class="r1" x1="2935" y1="2811" x2="2886" y2="2541"/>
<line class="b1" x1="2882" y1="2765" x2="2853" y2="2599"/>
<line class="r1" x1="2853" y1="2679" x2="2886" y2="2541"/>
<line class="b1" x1="2984" y1="2622" x2="3009" y2="2840"/>
<line class="r1" x1="2984" y1="2622" x2="2853" y2="2679"/>
<line class="r1" x1="3025" y1="2708" x2="3139" y2="2484"/>
<line class="b1" x1="3025" y1="2708" x2="2853" y2="2679"/>
<line class="r1" x1="2943" y1="2593" x2="3009" y2="2840"/>
<line class="r1" x1="2943" y1="2593" x2="3237" y2="2696"/>
<line class="r1" x1="3066" y1="2564" x2="2853" y2="2679"/>
<line class="b1" x1="3066" y1="2564" x2="3009" y2="2840"/>
<line class="r1" x1="3100" y1="2740" x2="2886" y2="2541"/>
<line class="b1" x1="3100" y1="2740" x2="2935" y2="2811"/>
<line class="r1" x1="2960" y1="2730" x2="3070" y2="2452"/>
<line class="b1" x1="2960" y1="2730" x2="3237" y2="2696"/>
<line class="r1" x1="2984" y1="2622" x2="2911" y2="2501"/>
<line class="r1" x1="3025" y1="2708" x2="3196" y2="2668"/>
<line class="r3" x1="3370" y1="2418" x2="3070" y2="2452"/>
<line class="r2" x1="3370" y1="2418" x2="3139" y2="2484"/>
<line class="r2" x1="3370" y1="2418" x2="3209" y2="2622"/>
<line class="r1" x1="3370" y1="2418" x2="3249" y2="2696"/>
<line class="r3" x1="3370" y1="2418" x2="2886" y2="2541"/>
<line class="r2" x1="3370" y1="2418" x2="3066" y2="2564"/>
<line class="b2" x1="3370" y1="2418" x2="3196" y2="2668"/>
<line class="b3" x1="3404" y1="2507" x2="3139" y2="2484"/>
<line class="r2" x1="3404" y1="2507" x2="3209" y2="2622"/>
<line class="b2" x1="3404" y1="2507" x2="2911" y2="2501"/>
<line class="r3" x1="3400" y1="2540" x2="3139" y2="2484"/>
<line class="r3" x1="3249" y1="2696" x2="3545" y2="2676"/>
</g>
<line class="b3" x1="3164" y1="2814" x2="3410" y2="2995"/>
<line class="b3" x1="3106" y1="2846" x2="3410" y2="2995"/>
<line class="b1" x1="3370" y1="2418" x2="3691" y2="2471"/>
<line class="b2" x1="3370" y1="2418" x2="3545" y2="2676"/>
<line class="b2" x1="3370" y1="2418" x2="3710" y2="2559"/>
<line class="b2" x1="3404" y1="2507" x2="3691" y2="2471"/>
<line class="b3" x1="3404" y1="2507" x2="3710" y2="2559"/>
<line class="b1" x1="3400" y1="2540" x2="3545" y2="2676"/>
<line class="b1" x1="3691" y1="2471" x2="3545" y2="2676"/>
<line class="b1" x1="3691" y1="2471" x2="3710" y2="2559"/>
<line class="b1" x1="3691" y1="2471" x2="3839" y2="2765"/>
<line class="r1" x1="3691" y1="2471" x2="3727" y2="2837"/>
<line class="r3" x1="3691" y1="2471" x2="3969" y2="2628"/>
<line class="b3" x1="3691" y1="2471" x2="3894" y2="2283"/>
<line class="b3" x1="3710" y1="2559" x2="3894" y2="2283"/>
<line class="b2" x1="3710" y1="2559" x2="3545" y2="2676"/>
<line class="r2" x1="3710" y1="2559" x2="3969" y2="2628"/>
<line class="r1" x1="3710" y1="2559" x2="3727" y2="2837" style="stroke-width:11"/>
<line class="b2" x1="3710" y1="2559" x2="3839" y2="2765"/>
<line class="b4" x1="3545" y1="2676" x2="3839" y2="2765"/>
<line class="r3" x1="3545" y1="2676" x2="3727" y2="2837"/>
<line class="b3" x1="3969" y1="2628" x2="3727" y2="2837"/>
<line class="r2" x1="3969" y1="2628" x2="3839" y2="2765"/>
<line class="r1" x1="3839" y1="2765" x2="3727" y2="2837"/>
<line class="r3" x1="3839" y1="2765" x2="3702" y2="3068" style="stroke:#fad6cf"/>
<line class="b3" x1="3727" y1="2837" x2="3702" y2="3068"/>
<line class="r3" x1="3727" y1="2837" x2="3410" y2="2995"/>
<line class="r1" x1="3410" y1="2995" x2="3702" y2="3068"/>
</g>

<!-- Labels / nodes -->
<g id="n-p1">
<g id="p1-tannerella"><text class="lb" x="218" y="207">Tannerella_NA</text></g>
<g id="p1-neisseria"><text class="lb" x="540" y="252">Neisseria_NA</text></g>
<g id="p1-megasphaera"><text class="lb" x="622" y="373">Megasphaera_micronuciformis</text></g>
<g id="p1-oribacterium-asacch"><text class="lb" x="1026" y="394">Oribacterium_asaccharolyticum</text></g>
<g id="p1-veillonella"><text class="lb" x="200" y="486">Veillonella_rogosae</text></g>
<g id="p1-oribacterium-parvum"><text class="lb" x="356" y="522">Oribacterium_parvum</text></g>
<g id="p1-fusobacterium"><text class="lb" x="475" y="598">Fusobacterium_periodonticum</text></g>
<g id="p1-leptotrichia"><text class="lb" x="659" y="651">Leptotrichia_NA</text></g>
<g id="p1-tm7x"><text class="lb" x="994" y="546">TM7x_NA</text></g>
<g id="p1-solobacterium"><text class="lb" x="691" y="713">Solobacterium_moorei</text></g>
<g id="p1-actinomyces"><text class="lb" x="1203" y="733">Actinomyces_NA</text></g>
<g id="p1-peptostrep"><text class="lb" x="254" y="781">Peptostreptococcus_stomatis</text></g>
<g id="p1-porphyromonas"><text class="lb" x="209" y="893">Porphyromonas_pasteri</text></g>
<g id="p1-prevotella-pallens"><text class="lb" x="881" y="922">Prevotella_pallens</text></g>
<g id="p1-atopobium"><text class="lb" x="1131" y="954">Atopobium_parvulum</text></g>
<g id="p1-prevotella-salivae"><text class="lb" x="1191" y="1002">Prevotella_salivae</text></g>
<g id="p1-peptococcus"><text class="lb" x="361" y="1020">Peptococcus_NA</text></g>
<g id="p1-candidatus"><text class="lb" x="668" y="1020">Candidatus Saccharimonas_NA</text></g>
</g>

<g id="n-p2">
<g id="p2-lachnoclostridium"><text class="lb" x="2015" y="205">Lachnoclostridium_edouardi</text></g>
<g id="p2-eligens"><text class="lb" x="2284" y="237">[Eubacterium] eligens group_eligens</text></g>
<g id="p2-nk4a214"><text class="lb" x="2475" y="335">NK4A214 group_NA</text></g>
<g id="p2-roseburia"><text class="lb" x="1974" y="374">Roseburia_NA</text></g>
<g id="p2-ucg010"><text class="lb" x="2537" y="435">UCG−010_NA</text></g>
<g id="p2-christensenellaceae"><text class="lb" x="2052" y="572">Christensenellaceae R−7 group_NA</text></g>
<g id="p2-oscillibacter"><text class="lb" x="2529" y="569">Oscillibacter_NA</text></g>
<g id="p2-ucg005"><text class="lb" x="2467" y="599">UCG−005_NA</text></g>
<g id="p2-odoribacter"><text class="lb" x="2272" y="631">Odoribacter_splanchnicus</text></g>
<g id="p2-distasonis"><text class="lb" x="1633" y="598">Parabacteroides_distasonis</text></g>
<g id="p2-ventriosum"><text class="lb" x="1749" y="638">[Eubacterium] ventriosum group_ventriosum</text></g>
<g id="p2-merdae"><text class="lb" x="1834" y="742">Parabacteroides_merdae</text></g>
<g id="p2-ucg002"><text class="lb" x="2493" y="793">UCG−002_NA</text></g>
<g id="p2-familyxiii"><text class="lb" x="1902" y="876">Family XIII AD3011 group_NA</text></g>
<g id="p2-alistipes"><text class="lb" x="1530" y="901">Alistipes_NA</text></g>
<g id="p2-streptococcus"><text class="lb" x="2387" y="957">Streptococcus_NA</text></g>
<g id="p2-bacteroides"><text class="lb" x="1623" y="1023">Bacteroides_NA</text></g>
<g id="p2-nk4a136"><text class="lb" x="1953" y="1021">Lachnospiraceae NK4A136 group_NA</text></g>
</g>

<g id="n-p3">
<g id="p3-butyrivibrio"><text class="lb" x="2962" y="210">Butyrivibrio_NA</text></g>
<g id="p3-alloprevotella"><text class="lb" x="3624" y="195">Alloprevotella_NA</text></g>
<g id="p3-rothia"><text class="lb" x="3382" y="233">Rothia_dentocariosa</text></g>
<g id="p3-campylobacter"><text class="lb" x="3541" y="378">Campylobacter_gracilis</text></g>
<g id="p3-denticola"><text class="lb" x="3797" y="459">Prevotella_denticola</text></g>
<g id="p3-nanceiensis"><text class="lb" x="3752" y="513">Prevotella_nanceiensis</text></g>
<g id="p3-veillonella"><text class="lb" x="2810" y="579">Veillonella_atypica</text></g>
<g id="p3-atopobium"><text class="lb" x="3299" y="601">Atopobium_parvulum</text></g>
<g id="p3-megasphaera"><text class="lb" x="2810" y="628">Megasphaera_micronuciformis</text></g>
<g id="p3-histicola"><text class="lb" x="3178" y="644">Prevotella_histicola</text></g>
<g id="p3-fusobacterium"><text class="lb" x="3457" y="644">Fusobacterium_nucleatum</text></g>
<g id="p3-tannerella"><text class="lb" x="3658" y="765">Tannerella_forsythia</text></g>
<g id="p3-salivae"><text class="lb" x="2972" y="1018">Prevotella_salivae</text></g>
<g id="p3-prevotella"><text class="lb" x="3403" y="1018">Prevotella_NA</text></g>
</g>

<g id="n-p4">
<g id="p4-alloprevotella"><text class="lb" x="377" y="1413">Alloprevotella_NA</text></g>
<g id="p4-neisseria"><text class="lb" x="234" y="1612">Neisseria_NA</text></g>
<g id="p4-porphyromonas"><text class="lb" x="308" y="1816">Porphyromonas_pasteri</text></g>
<g id="p4-capno-lead"><text class="lb" x="193" y="1885">Capnocytophaga_leadbetteri</text></g>
<g id="p4-capno-sput"><text class="lb" x="469" y="2010">Capnocytophaga_sputigena</text></g>
<g id="p4-nanceiensis"><text class="lb" x="188" y="2064">Prevotella_nanceiensis</text></g>
<g id="p4-mycoplasma"><text class="lb" x="865" y="1269">Mycoplasma_NA</text></g>
<g id="p4-peptostrep"><text class="lb" x="1012" y="1302">Peptostreptococcus_stomatis</text></g>
<g id="p4-leptotrichia"><text class="lb" x="1143" y="1365">Leptotrichia_buccalis</text></g>
<g id="p4-nodatum"><text class="lb" x="684" y="1427">[Eubacterium] nodatum group_NA</text></g>
<g id="p4-peptococcus"><text class="lb" x="1045" y="1569">Peptococcus_NA</text></g>
<g id="p4-rikenellaceae"><text class="lb" x="1000" y="1633">Rikenellaceae RC9 gut group_NA</text></g>
<g id="p4-anaerovoracaceae"><text class="lb" x="801" y="1677">Anaerovoracaceae_NA</text></g>
<g id="p4-brachy"><text class="lb" x="898" y="1761">[Eubacterium] brachy group_brachy</text></g>
<g id="p4-filifactor"><text class="lb" x="672" y="1787">Filifactor_alocis</text></g>
<g id="p4-endodontalis"><text class="lb" x="983" y="2008">Porphyromonas_endodontalis</text></g>
<g id="p4-parvimonas"><text class="lb" x="1187" y="2054">Parvimonas_micra</text></g>
<g id="p4-absconditabacteriales"><text class="lb" x="733" y="2067">Absconditabacteriales (SR1)_NA</text></g>
</g>

<g id="n-p5">
<g id="p5-gam79"><text class="lb" x="1599" y="1319">Lachnospiraceae NK4A136 group_bacterium_GAM79</text></g>
<g id="p5-bacteroides"><text class="lb" x="2449" y="1268">Bacteroides_NA</text></g>
<g id="p5-fusicatenibacter"><text class="lb" x="2099" y="1619">Fusicatenibacter_saccharivorans</text></g>
<g id="p5-dorea"><text class="lb" x="1970" y="1691">Dorea_longicatena</text></g>
<g id="p5-ucg002"><text class="lb" x="1854" y="2002">UCG−002_NA</text></g>
<g id="p5-christensenellaceae"><text class="lb" x="1543" y="2057">Christensenellaceae R−7 group_NA</text></g>
<g id="p5-collinsella"><text class="lb" x="2404" y="2045">Collinsella_aerofaciens</text></g>
</g>

<g id="n-p6">
<g id="p6-familyxiii"><text class="lb" x="2969" y="1466">Family XIII UCG−001_NA</text></g>
<g id="p6-intermedia"><text class="lb" x="2889" y="1747">Prevotella_intermedia</text></g>
<g id="p6-absconditabacteriales"><text class="lb" x="2822" y="1801">Absconditabacteriales (SR1)_NA</text></g>
<g id="p6-defluviitaleaceae"><text class="lb" x="3253" y="1758">Defluviitaleaceae UCG−011_NA</text></g>
<g id="p6-anaerovoracaceae"><text class="lb" x="2969" y="2054">Anaerovoracaceae_NA</text></g>
<g id="p6-veillonella"><text class="lb" x="3360" y="1672">Veillonella_rogosae</text></g>
<g id="p6-alloprevotella"><text class="lb" x="3711" y="1241">Alloprevotella_NA</text></g>
<g id="p6-candidatus"><text class="lb" x="3577" y="1471">Candidatus Saccharimonas_NA</text></g>
<g id="p6-neisseria"><text class="lb" x="3674" y="1639">Neisseria_NA</text></g>
<g id="p6-porphyromonas"><text class="lb" x="3716" y="1715">Porphyromonas_pasteri</text></g>
<g id="p6-leptotrichia"><text class="lb" x="3716" y="1773">Leptotrichia_NA</text></g>
<g id="p6-tm7x"><text class="lb" x="3857" y="2025">TM7x_NA</text></g>
</g>

<g id="n-p7">
<g id="p7-peptococcus"><text class="lb" x="369" y="2372">Peptococcus_NA</text></g>
<g id="p7-fusobacterium"><text class="lb" x="542" y="2407">Fusobacterium_NA</text></g>
<g id="p7-lautropia"><text class="lb" x="741" y="2372">Lautropia_mirabilis</text></g>
<g id="p7-lachnoanaerobaculum"><text class="lb" x="250" y="2450">Lachnoanaerobaculum_NA</text></g>
<g id="p7-fuso-perio"><text class="lb" x="650" y="2444">Fusobacterium_periodonticum</text></g>
<g id="p7-corynebacterium"><text class="lb" x="354" y="2490">Corynebacterium_matruchotii</text></g>
<g id="p7-allo-tannerae"><text class="lb" x="707" y="2481">Alloprevotella_tannerae</text></g>
<g id="p7-nanceiensis"><text class="lb" x="237" y="2539">Prevotella_nanceiensis</text></g>
<g id="p7-catonella"><text class="lb" x="664" y="2541">Catonella_morbi</text></g>
<g id="p7-streptococcus"><text class="lb" x="405" y="2585">Streptococcus_parasanguinis</text></g>
<g id="p7-fuso-nucleatum"><text class="lb" x="760" y="2622">Fusobacterium_nucleatum</text></g>
<g id="p7-nodatum"><text class="lb" x="352" y="2634">[Eubacterium] nodatum group_NA</text></g>
<g id="p7-bergeyella"><text class="lb" x="225" y="2676">Bergeyella_NA</text></g>
<g id="p7-candidatus"><text class="lb" x="433" y="2676">Candidatus Saccharimonas_NA</text></g>
<g id="p7-johnsonella"><text class="lb" x="313" y="2719">Johnsonella_NA</text></g>
<g id="p7-clostridia"><text class="lb" x="520" y="2741">Clostridia UCG−014_NA</text></g>
<g id="p7-nigrescens"><text class="lb" x="311" y="2828">Prevotella_nigrescens</text></g>
<g id="p7-selenomonas"><text class="lb" x="225" y="2868">Selenomonas_NA</text></g>
<g id="p7-haem-parainf"><text class="lb" x="459" y="2959">Haemophilus_parainfluenzae</text></g>
<g id="p7-alloprevotella"><text class="lb" x="654" y="3008">Alloprevotella_NA</text></g>
<g id="p7-megasphaera"><text class="lb" x="394" y="3097">Megasphaera_micronuciformis</text></g>
<g id="p7-f0058"><text class="lb" x="901" y="2293">F0058_NA</text></g>
<g id="p7-veillonella"><text class="lb" x="988" y="2341">Veillonella_rogosae</text></g>
<g id="p7-oribacterium"><text class="lb" x="1014" y="2418">Oribacterium_sinus</text></g>
<g id="p7-prevotella-oris"><text class="lb" x="1176" y="2483">Prevotella_oris</text></g>
<g id="p7-actino-graev"><text class="lb" x="870" y="2517">Actinomyces_graevenitzii</text></g>
<g id="p7-rothia"><text class="lb" x="1142" y="2553">Rothia_dentocariosa</text></g>
<g id="p7-tm7x"><text class="lb" x="1280" y="2587">TM7x_NA</text></g>
<g id="p7-neisseria"><text class="lb" x="1080" y="2621">Neisseria_NA</text></g>
<g id="p7-granulicatella"><text class="lb" x="1083" y="2659">Granulicatella_elegans</text></g>
<g id="p7-porphyromonas"><text class="lb" x="814" y="2696">Porphyromonas_pasteri</text></g>
<g id="p7-atopobium"><text class="lb" x="1110" y="2701">Atopobium_parvulum</text></g>
<g id="p7-actinomyces"><text class="lb" x="1017" y="2734">Actinomyces_NA</text></g>
<g id="p7-campylobacter"><text class="lb" x="807" y="2794">Campylobacter_NA</text></g>
<g id="p7-solobacterium"><text class="lb" x="1176" y="2785">Solobacterium_moorei</text></g>
<g id="p7-kingella"><text class="lb" x="1292" y="2895">Kingella_NA</text></g>
<g id="p7-capno-sput"><text class="lb" x="897" y="2935">Capnocytophaga_sputigena</text></g>
<g id="p7-haemophilus"><text class="lb" x="1234" y="2958">Haemophilus_NA</text></g>
<g id="p7-prevotella"><text class="lb" x="957" y="2998">Prevotella_NA</text></g>
<g id="p7-shuttleworthia"><text class="lb" x="1071" y="3040">Shuttleworthia_satelles</text></g>
</g>

<g id="n-p8">
<g id="p8-uniformis"><text class="lb" x="1562" y="2277">Bacteroides_uniformis</text></g>
<g id="p8-incertae"><text class="lb" x="1768" y="2409">Incertae Sedis_NA</text></g>
<g id="p8-vulgatus"><text class="lb" x="1866" y="2506">Bacteroides_vulgatus</text></g>
<g id="p8-lachnospiraceae"><text class="lb" x="1519" y="2562">Lachnospiraceae_NA</text></g>
<g id="p8-coprococcus"><text class="lb" x="1757" y="2676">Coprococcus_comes</text></g>
<g id="p8-coprostanoligenes"><text class="lb" x="1736" y="2738">[Eubacterium] coprostanoligenes group_NA</text></g>
<g id="p8-merdae"><text class="lb" x="1554" y="2772">Parabacteroides_merdae</text></g>
<g id="p8-butyricicoccus"><text class="lb" x="1784" y="2883">Butyricicoccus_faecihominis</text></g>
<g id="p8-nk4a214"><text class="lb" x="1597" y="2981">NK4A214 group_NA</text></g>
<g id="p8-christensenellaceae"><text class="lb" x="1591" y="3059">Christensenellaceae R−7 group_NA</text></g>
<g id="p8-distasonis"><text class="lb" x="2368" y="2418">Parabacteroides_distasonis</text></g>
<g id="p8-bacteroides"><text class="lb" x="2363" y="2516">Bacteroides_NA</text></g>
<g id="p8-faecalibacterium"><text class="lb" x="2334" y="2559">Faecalibacterium_prausnitzii</text></g>
<g id="p8-collinsella"><text class="lb" x="2115" y="2594">Collinsella_aerofaciens</text></g>
<g id="p8-ucg002"><text class="lb" x="2437" y="2594">UCG−002_NA</text></g>
<g id="p8-roseburia-inul"><text class="lb" x="2441" y="2639">Roseburia_inulinivorans</text></g>
<g id="p8-dorea-long"><text class="lb" x="2207" y="2661">Dorea_longicatena</text></g>
<g id="p8-agathobacter"><text class="lb" x="2511" y="2691">Agathobacter_NA</text></g>
<g id="p8-ruminococcus"><text class="lb" x="2203" y="2705">Ruminococcus_bromii</text></g>
<g id="p8-subdol-var"><text class="lb" x="2403" y="2745">Subdoligranulum_variabile</text></g>
<g id="p8-roseburia"><text class="lb" x="2548" y="2806">Roseburia_NA</text></g>
<g id="p8-dorea-form"><text class="lb" x="2256" y="2835">Dorea_formicigenerans</text></g>
<g id="p8-subdol"><text class="lb" x="2431" y="2900">Subdoligranulum_NA</text></g>
<g id="p8-torques"><text class="lb" x="2234" y="2956">[Ruminococcus] torques group_torques</text></g>
<g id="p8-bifidobacterium"><text class="lb" x="2343" y="3084">Bifidobacterium_NA</text></g>
</g>

<g id="n-p9">
<g id="p9-veillonella"><text class="lb" x="2936" y="2441">Veillonella_rogosae</text></g>
<g id="p9-campylobacter-gracilis"><text class="lb" x="3267" y="2409">Campylobacter_gracilis</text></g>
<g id="p9-gemella-morb"><text class="lb" x="3152" y="2493">Gemella_morbillorum</text></g>
<g id="p9-catonella"><text class="lb" x="2811" y="2527">Catonella_morbi</text></g>
<g id="p9-capno-lead"><text class="lb" x="2969" y="2527">Capnocytophaga_leadbetteri</text></g>
<g id="p9-capno-ging"><text class="lb" x="2855" y="2563">Capnocytophaga_gingivalis</text></g>
<g id="p9-saccharimonadales"><text class="lb" x="3290" y="2550">Saccharimonadales_NA</text></g>
<g id="p9-dialister"><text class="lb" x="3186" y="2587">Dialister_invisus</text></g>
<g id="p9-fuso-perio"><text class="lb" x="2809" y="2621">Fusobacterium_periodonticum</text></g>
<g id="p9-tannerella"><text class="lb" x="3224" y="2623">Tannerella_NA</text></g>
<g id="p9-fusobacterium"><text class="lb" x="2813" y="2663">Fusobacterium_NA</text></g>
<g id="p9-neisseria"><text class="lb" x="3053" y="2661">Neisseria_NA</text></g>
<g id="p9-prevotella"><text class="lb" x="2809" y="2702">Prevotella_NA</text></g>
<g id="p9-lautropia"><text class="lb" x="3227" y="2688">Lautropia_mirabilis</text></g>
<g id="p9-capno-sput"><text class="lb" x="2972" y="2731">Capnocytophaga_sputigena</text></g>
<g id="p9-porphyromonas"><text class="lb" x="3261" y="2740">Porphyromonas_pasteri</text></g>
<g id="p9-fuso-nucleatum"><text class="lb" x="2811" y="2762">Fusobacterium_nucleatum</text></g>
<g id="p9-rothia"><text class="lb" x="2809" y="2799">Rothia_dentocariosa</text></g>
<g id="p9-campylobacter"><text class="lb" x="3127" y="2799">Campylobacter_NA</text></g>
<g id="p9-coryne-durum"><text class="lb" x="2811" y="2862">Corynebacterium_durum</text></g>
<g id="p9-coryne-matr"><text class="lb" x="3111" y="2885">Corynebacterium_matruchotii</text></g>
<g id="p9-nodatum"><text class="lb" x="3192" y="3019">[Eubacterium] nodatum group_NA</text></g>
<g id="p9-peptostrep"><text class="lb" x="3602" y="2280">Peptostreptococcus_stomatis</text></g>
<g id="p9-stomatobaculum"><text class="lb" x="3611" y="2457">Stomatobaculum_longum</text></g>
<g id="p9-leptotrichia"><text class="lb" x="3413" y="2493">Leptotrichia_NA</text></g>
<g id="p9-lachnoanaerobaculum"><text class="lb" x="3582" y="2544">Lachnoanaerobaculum_saburreum</text></g>
<g id="p9-gemella"><text class="lb" x="3816" y="2629">Gemella_NA</text></g>
<g id="p9-capnocytophaga"><text class="lb" x="3467" y="2702">Capnocytophaga_NA</text></g>
<g id="p9-solobacterium"><text class="lb" x="3689" y="2788">Solobacterium_moorei</text></g>
<g id="p9-alloprevotella"><text class="lb" x="3750" y="2872">Alloprevotella_NA</text></g>
<g id="p9-streptococcus"><text class="lb" x="3624" y="3057">Streptococcus_NA</text></g>
</g>

<g id="legend">
<text x="4143" y="236" style="font-size:50px">r</text>
<rect x="4118" y="296" width="95" height="483" fill="url(#rbar)"/>
<line class="tick" x1="4118" y1="304" x2="4136" y2="304"/><line class="tick" x1="4195" y1="304" x2="4213" y2="304"/>
<line class="tick" x1="4118" y1="420" x2="4136" y2="420"/><line class="tick" x1="4195" y1="420" x2="4213" y2="420"/>
<line class="tick" x1="4118" y1="536" x2="4136" y2="536"/><line class="tick" x1="4195" y1="536" x2="4213" y2="536"/>
<line class="tick" x1="4118" y1="652" x2="4136" y2="652"/><line class="tick" x1="4195" y1="652" x2="4213" y2="652"/>
<line class="tick" x1="4118" y1="768" x2="4136" y2="768"/><line class="tick" x1="4195" y1="768" x2="4213" y2="768"/>
<text x="4325" y="321" text-anchor="end" style="font-size:46px">1.0</text>
<text x="4325" y="437" text-anchor="end" style="font-size:46px">0.5</text>
<text x="4325" y="553" text-anchor="end" style="font-size:46px">0.0</text>
<text x="4325" y="669" text-anchor="end" style="font-size:46px">−0.5</text>
<text x="4325" y="785" text-anchor="end" style="font-size:46px">−1.0</text>
</g>
</svg>
